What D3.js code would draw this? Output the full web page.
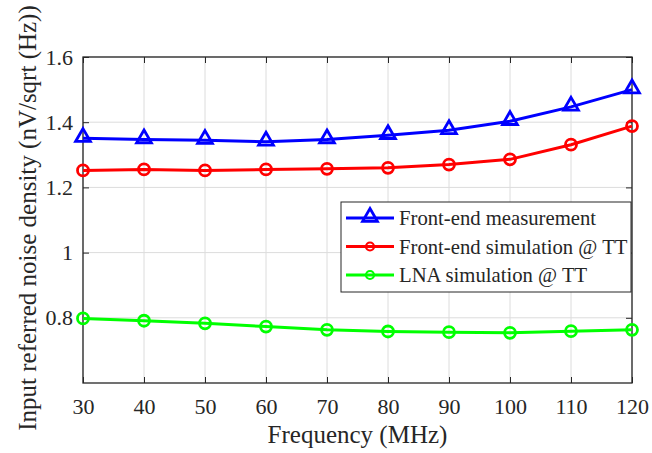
<!DOCTYPE html>
<html>
<head>
    <title>Input referred noise density</title>
    <script src="https://d3js.org/d3.v7.min.js"></script>
    <style>
        body { margin: 0; background: #fff; }
        text { font-family: "Liberation Serif", "Times New Roman", serif; fill: #262626; }
    </style>
</head>
<body>
    <script>
        // data
        var freqs = [30, 40, 50, 60, 70, 80, 90, 100, 110, 120];
        var measured = [1.351, 1.347, 1.345, 1.340, 1.347, 1.360, 1.375, 1.403, 1.447, 1.500];
        var feSim = [1.252, 1.255, 1.252, 1.255, 1.257, 1.260, 1.270, 1.286, 1.331, 1.388];
        var lnaSim = [0.798, 0.791, 0.783, 0.773, 0.763, 0.758, 0.756, 0.754, 0.759, 0.763];
        var seriesNames = ["Front-end measurement", "Front-end simulation @ TT", "LNA simulation @ TT"];
        var seriesColors = ["#0000ff", "#ff0000", "#00ff00"];
        var seriesMarkers = ["triangle", "circle", "circle"];
        var yTicks = [0.8, 1, 1.2, 1.4, 1.6];
        var xTicks = [30, 40, 50, 60, 70, 80, 90, 100, 110, 120];

        var W = 652, H = 453;
        var m = {left: 83, right: 20, top: 57, bottom: 70};
        var pw = W - m.left - m.right, ph = H - m.top - m.bottom;
        var serif = "'Liberation Serif', 'Times New Roman', serif";

        var svg = d3.select("body").append("svg")
            .attr("width", W)
            .attr("height", H);

        var x = d3.scaleLinear().domain([30, 120]).range([m.left, m.left + pw]);
        var y = d3.scaleLinear().domain([0.6, 1.6]).range([m.top + ph, m.top]);

        // grid
        var grid = svg.append("g").attr("stroke", "#dcdcdc").attr("stroke-width", 1);
        xTicks.forEach(function(t) {
            grid.append("line").attr("x1", x(t)).attr("x2", x(t))
                .attr("y1", m.top).attr("y2", m.top + ph);
        });
        yTicks.forEach(function(t) {
            grid.append("line").attr("x1", m.left).attr("x2", m.left + pw)
                .attr("y1", y(t)).attr("y2", y(t));
        });

        // axes (ticks inside, box on)
        var fmt = function(d) { return d === 1 ? "1" : d3.format(".1f")(d); };
        function styleAxis(g) {
            g.attr("font-family", serif);
            g.select(".domain").remove();
            g.selectAll(".tick line").attr("stroke", "#262626");
            g.selectAll(".tick text").style("font-size", "22px")
                .style("font-family", serif).attr("fill", "#262626");
        }
        svg.append("g").attr("transform", "translate(0," + (m.top + ph) + ")")
            .call(d3.axisBottom(x).tickValues(xTicks).tickSizeInner(-6).tickPadding(15))
            .call(styleAxis);
        svg.append("g").attr("transform", "translate(0," + m.top + ")")
            .call(d3.axisTop(x).tickValues(xTicks).tickSizeInner(-6).tickFormat(""))
            .call(styleAxis);
        svg.append("g").attr("transform", "translate(" + m.left + ",0)")
            .call(d3.axisLeft(y).tickValues(yTicks).tickSizeInner(-6).tickPadding(10).tickFormat(fmt))
            .call(styleAxis);
        svg.append("g").attr("transform", "translate(" + (m.left + pw) + ",0)")
            .call(d3.axisRight(y).tickValues(yTicks).tickSizeInner(-6).tickFormat(""))
            .call(styleAxis);

        svg.append("rect").attr("x", m.left).attr("y", m.top)
            .attr("width", pw).attr("height", ph)
            .attr("fill", "none").attr("stroke", "#262626").attr("stroke-width", 1.3);

        // series
        var allSeries = [measured, feSim, lnaSim];
        var line = d3.line().x(function(d, i) { return x(freqs[i]); }).y(function(d) { return y(d); });
        var triSym = d3.symbol().type(d3.symbolTriangle).size(95);

        function drawMarker(g, kind, cx, cy, color) {
            if (kind === "triangle") {
                g.append("path").attr("d", triSym())
                    .attr("transform", "translate(" + cx + "," + (cy - 1) + ")")
                    .attr("fill", "none").attr("stroke", color).attr("stroke-width", 2.8);
            } else {
                g.append("circle").attr("cx", cx).attr("cy", cy).attr("r", 5.5)
                    .attr("fill", "none").attr("stroke", color).attr("stroke-width", 2.8);
            }
        }

        allSeries.forEach(function(vals, k) {
            var g = svg.append("g");
            g.append("path").attr("d", line(vals))
                .attr("fill", "none").attr("stroke", seriesColors[k]).attr("stroke-width", 3);
            vals.forEach(function(v, i) {
                drawMarker(g, seriesMarkers[k], x(freqs[i]), y(v), seriesColors[k]);
            });
        });

        // legend
        var lg = svg.append("g").attr("transform", "translate(341,202)");
        lg.append("rect").attr("width", 290).attr("height", 90)
            .attr("fill", "#fff").attr("stroke", "#262626").attr("stroke-width", 1);
        seriesNames.forEach(function(name, k) {
            var cy = 16 + k * 28.5;
            lg.append("line").attr("x1", 5).attr("x2", 53).attr("y1", cy).attr("y2", cy)
                .attr("stroke", seriesColors[k]).attr("stroke-width", 3);
            if (seriesMarkers[k] === "triangle") {
                lg.append("path").attr("d", triSym())
                    .attr("transform", "translate(29," + (cy - 1) + ")")
                    .attr("fill", "none").attr("stroke", seriesColors[k]).attr("stroke-width", 2.8);
            } else {
                lg.append("circle").attr("cx", 29).attr("cy", cy).attr("r", 4)
                    .attr("fill", "none").attr("stroke", seriesColors[k]).attr("stroke-width", 2.2);
            }
            lg.append("text").attr("x", 58).attr("y", cy + 7)
                .style("font-size", "20.7px").style("font-family", serif).text(name);
        });

        // axis titles
        svg.append("text")
            .attr("x", m.left + pw / 2).attr("y", 443)
            .attr("text-anchor", "middle").style("font-size", "25px").style("font-family", serif)
            .text("Frequency (MHz)");
        svg.append("text")
            .attr("transform", "translate(36," + (m.top + ph / 2 - 2) + ") rotate(-90)")
            .attr("text-anchor", "middle").style("font-size", "25px").style("font-family", serif)
            .text("Input referred noise density (nV/sqrt (Hz))");
    </script>
</body>
</html>
